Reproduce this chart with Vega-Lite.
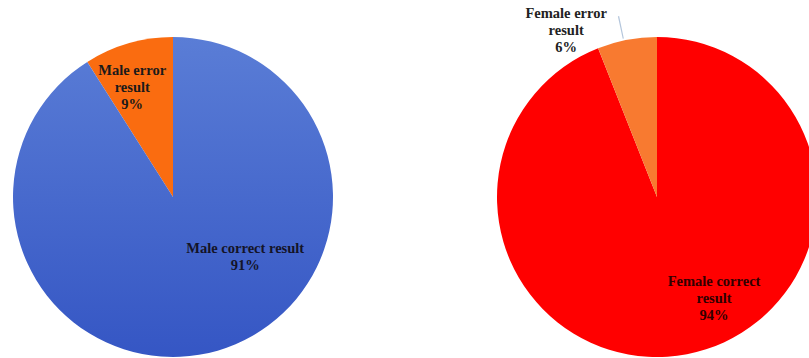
{
  "$schema": "https://vega.github.io/schema/vega-lite/v6.json",
  "width": 809,
  "height": 358,
  "autosize": {"type": "none"},
  "padding": 0,
  "background": "white",
  "config": {"view": {"stroke": null}},
  "data": {
    "values": [
      {"gender": "Male", "slice": "Male correct result", "order": 1, "value": 91, "label": "Male correct result\n91%"},
      {"gender": "Male", "slice": "Male error result", "order": 2, "value": 9, "label": "Male error\nresult\n9%"},
      {"gender": "Female", "slice": "Female correct result", "order": 1, "value": 94, "label": "Female correct\nresult\n94%"},
      {"gender": "Female", "slice": "Female error result", "order": 2, "value": 6, "label": "Female error\nresult\n6%"}
    ]
  },
  "transform": [
    {"stack": "value", "groupby": ["gender"], "sort": [{"field": "order"}], "as": ["v0", "v1"]}
  ],
  "encoding": {
    "x": {"field": "gender", "type": "nominal", "scale": {"domain": ["Male", "Female"], "range": [173, 657], "padding": 0}, "axis": null},
    "y": {"field": "gender", "type": "nominal", "scale": {"domain": ["Male", "Female"], "range": [197, 197], "padding": 0}, "axis": null}
  },
  "layer": [
    {
      "transform": [{"filter": "datum.slice !== 'Male correct result'"}],
      "mark": {"type": "arc", "outerRadius": 160},
      "encoding": {
        "theta": {"field": "v0", "type": "quantitative", "scale": {"domain": [0, 100]}},
        "theta2": {"field": "v1"},
        "color": {
          "field": "slice", "type": "nominal", "legend": null,
          "scale": {
            "domain": ["Male correct result", "Male error result", "Female correct result", "Female error result"],
            "range": ["#4468CC", "#FA6C10", "#FF0000", "#F87A30"]
          }
        }
      }
    },
    {
      "transform": [{"filter": "datum.slice === 'Male correct result'"}],
      "mark": {
        "type": "arc", "outerRadius": 160,
        "color": {
          "gradient": "linear", "x1": 0, "y1": 0, "x2": 0, "y2": 1,
          "stops": [{"offset": 0, "color": "#5A7DD6"}, {"offset": 1, "color": "#3556C4"}]
        }
      },
      "encoding": {
        "theta": {"field": "v0", "type": "quantitative", "scale": {"domain": [0, 100]}},
        "theta2": {"field": "v1"}
      }
    },
    {
      "transform": [{"filter": "datum.slice === 'Female error result'"}],
      "mark": {"type": "arc", "innerRadius": 162, "outerRadius": 185, "theta": 6.07, "theta2": 6.077, "color": "#B4C6DC"},
      "encoding": {}
    },
    {
      "transform": [{"filter": "datum.slice === 'Male error result'"}],
      "mark": {"type": "text", "theta": 5.924, "radius": 116, "dy": -17, "font": "Liberation Serif", "fontWeight": "bold", "fontSize": 14.5, "lineHeight": 17, "lineBreak": "\n", "align": "center", "baseline": "middle", "color": "#1a1a1a"},
      "encoding": {"text": {"field": "label"}}
    },
    {
      "transform": [{"filter": "datum.slice === 'Male correct result'"}],
      "mark": {"type": "text", "theta": 2.265, "radius": 94, "dy": -8.5, "font": "Liberation Serif", "fontWeight": "bold", "fontSize": 14.5, "lineHeight": 17, "lineBreak": "\n", "align": "center", "baseline": "middle", "color": "#141428"},
      "encoding": {"text": {"field": "label"}}
    },
    {
      "transform": [{"filter": "datum.slice === 'Female error result'"}],
      "mark": {"type": "text", "theta": 5.782, "radius": 189, "dy": -17, "font": "Liberation Serif", "fontWeight": "bold", "fontSize": 14.5, "lineHeight": 17, "lineBreak": "\n", "align": "center", "baseline": "middle", "color": "#222222"},
      "encoding": {"text": {"field": "label"}}
    },
    {
      "transform": [{"filter": "datum.slice === 'Female correct result'"}],
      "mark": {"type": "text", "theta": 2.632, "radius": 117, "dy": -17, "font": "Liberation Serif", "fontWeight": "bold", "fontSize": 14.5, "lineHeight": 17, "lineBreak": "\n", "align": "center", "baseline": "middle", "color": "#300000"},
      "encoding": {"text": {"field": "label"}}
    }
  ]
}
